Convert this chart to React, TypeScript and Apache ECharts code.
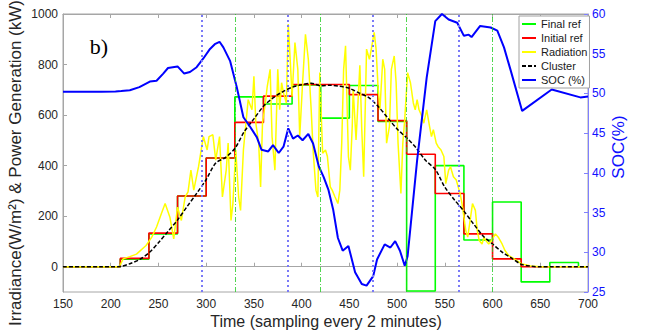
import React, { useEffect, useRef } from "react";
import * as echarts from "echarts";

const xMin = 150;
const xMax = 700;
const leftTicks = [0, 200, 400, 600, 800, 1000];

const finalRef: [number, number][] = [[150, 0], [210, 30], [240, 130], [270, 280], [300, 430], [330, 672], [360, 644], [390, 719], [420, 588], [450, 717], [480, 575], [510, -96], [540, 400], [570, 106], [600, 256], [630, -60], [660, 17], [690, 0], [700, 0]];
const initialRef: [number, number][] = [[150, 0], [210, 33], [240, 133], [270, 280], [300, 430], [330, 571], [360, 675], [390, 721], [420, 721], [450, 681], [480, 578], [510, 445], [540, 290], [570, 130], [600, 31], [630, 0], [700, 0]];
const radiation: [number, number][] = [[150, 0], [170, 0], [190, 0], [209, 0], [213, 31], [220, 40], [227, 50], [237, 84], [243, 117], [248, 157], [253, 210], [257, 250], [262, 196], [266, 110], [270, 236], [274, 183], [278, 276], [281, 296], [284, 382], [287, 303], [292, 396], [297, 515], [301, 462], [303, 515], [307, 522], [310, 422], [314, 515], [317, 276], [321, 382], [323, 489], [326, 183], [328, 250], [331, 462], [334, 276], [336, 223], [339, 462], [342, 582], [344, 661], [348, 621], [350, 754], [352, 568], [355, 489], [357, 316], [359, 568], [362, 648], [364, 714], [367, 781], [369, 515], [372, 382], [375, 781], [377, 621], [379, 728], [381, 688], [384, 648], [386, 960], [388, 820], [390, 674], [393, 887], [396, 781], [398, 515], [401, 728], [404, 920], [407, 821], [410, 621], [412, 462], [415, 303], [417, 276], [419, 768], [422, 449], [425, 462], [427, 436], [430, 316], [432, 303], [435, 276], [438, 250], [440, 303], [442, 489], [444, 781], [446, 874], [447, 728], [449, 436], [451, 382], [453, 555], [454, 701], [457, 502], [459, 648], [461, 797], [463, 542], [465, 356], [467, 688], [468, 861], [471, 821], [473, 861], [476, 927], [478, 861], [480, 714], [482, 621], [485, 821], [487, 781], [489, 489], [492, 555], [494, 781], [497, 834], [499, 728], [501, 489], [504, 290], [506, 489], [508, 582], [511, 768], [514, 728], [517, 648], [519, 621], [521, 661], [523, 621], [526, 595], [528, 568], [531, 621], [534, 555], [536, 515], [538, 542], [541, 489], [543, 475], [546, 462], [549, 436], [551, 329], [554, 382], [556, 396], [557, 382], [559, 356], [562, 343], [564, 316], [566, 290], [568, 250], [570, 196], [572, 143], [574, 117], [577, 196], [579, 250], [582, 223], [584, 143], [586, 104], [589, 90], [591, 117], [593, 104], [596, 90], [599, 104], [603, 130], [606, 117], [610, 90], [613, 64], [617, 44], [621, 35], [625, 25], [630, 12], [640, 3], [650, 0], [700, 0]];
const cluster: [number, number][] = [[150, 0], [170, 0], [190, 0], [200, 0], [210, 1], [220, 12], [230, 28], [240, 55], [250, 95], [260, 140], [270, 185], [280, 238], [290, 290], [300, 345], [310, 410], [320, 432], [330, 468], [340, 535], [350, 585], [360, 635], [370, 668], [380, 692], [390, 710], [400, 720], [410, 726], [420, 716], [430, 718], [440, 714], [450, 706], [460, 688], [470, 670], [480, 635], [490, 590], [500, 545], [510, 510], [520, 470], [530, 420], [540, 385], [550, 315], [560, 265], [570, 220], [580, 170], [590, 122], [600, 90], [610, 58], [620, 34], [630, 10], [640, 2], [650, 0], [700, 0]];
const soc: [number, number][] = [[150, 50.2], [170, 50.2], [190, 50.2], [205, 50.25], [211, 50.3], [220, 50.4], [230, 50.8], [241, 51.5], [248, 51.6], [255, 52.5], [260, 53.2], [270, 53.4], [277, 52.5], [283, 52.7], [290, 53.3], [297, 54.4], [304, 55.6], [309, 56.2], [314, 56.5], [318, 55.8], [325, 54.1], [332, 50.8], [339, 47], [346, 45.8], [353, 44.5], [358, 42.9], [365, 42.7], [370, 43.5], [376, 42.5], [381, 43.3], [386, 45.6], [391, 44.3], [396, 44.7], [401, 44.1], [407, 44.9], [412, 43.7], [418, 40.8], [423, 39.5], [428, 37.9], [433, 35.4], [438, 31.8], [443, 30.2], [449, 30.8], [456, 27.5], [463, 26], [468, 25.8], [475, 27], [479, 29.1], [487, 31], [493, 30.6], [498, 31.4], [503, 30.2], [508, 28.3], [511, 29.5], [521, 41.6], [531, 52], [540, 59.1], [547, 60], [554, 59.3], [563, 58.9], [570, 57.25], [575, 57.4], [578, 57.1], [587, 58.5], [598, 58.3], [605, 57.9], [612, 55.8], [619, 52.9], [631, 47.8], [662, 50.5], [692, 49.5], [700, 49.6]];
const blueMarks = [295, 385, 475, 565];
const greenMarks = [330, 420, 510, 600];

const FONT = "'Liberation Sans', Arial, sans-serif";
const AXIS_GRAY = "#a6a6a6";
const TEXT_GRAY = "#262626";

export default function App() {
  const ref = useRef<HTMLDivElement>(null);
  useEffect(() => {
    if (!ref.current) return;
    const chart = echarts.init(ref.current, undefined, { renderer: "svg" });
    const option: any = {
      animation: false,
      backgroundColor: "#ffffff",
      textStyle: { fontFamily: FONT },
      grid: { left: 63, right: 58, top: 14, bottom: 39, show: true, borderColor: AXIS_GRAY, borderWidth: 1, backgroundColor: "transparent" },
      legend: {
        left: 519,
        top: 16,
        orient: "vertical",
        data: ["Final ref", "Initial ref", "Radiation", "Cluster", "SOC (%)"],
        itemWidth: 14,
        itemHeight: 8,
        itemGap: 0,
        padding: [1, 2, 1, 2],
        itemStyle: { opacity: 0 },
        backgroundColor: "#ffffff",
        borderColor: "#a0a0a0",
        borderWidth: 1,
        borderRadius: 0,
        textStyle: { fontSize: 11, fontFamily: FONT, color: "#1a1a1a", lineHeight: 14 },
      },
      xAxis: [
        {
          type: "value", min: xMin, max: xMax, interval: 50, position: "bottom",
          axisLine: { show: true, lineStyle: { color: AXIS_GRAY } },
          axisTick: { show: true, inside: true, length: 4, lineStyle: { color: AXIS_GRAY } },
          axisLabel: { color: TEXT_GRAY, fontSize: 12, margin: 6, fontFamily: FONT },
          splitLine: { show: false },
        },
        {
          type: "value", min: xMin, max: xMax, interval: 50, position: "top",
          axisLine: { show: true, lineStyle: { color: AXIS_GRAY } },
          axisTick: { show: true, inside: true, length: 4, lineStyle: { color: AXIS_GRAY } },
          axisLabel: { show: false },
          splitLine: { show: false },
        },
      ],
      yAxis: [
        {
          type: "value", min: -100, max: 1000, position: "left",
          axisLine: { show: true, lineStyle: { color: AXIS_GRAY } },
          axisTick: { show: true, inside: true, length: 4, customValues: leftTicks, lineStyle: { color: AXIS_GRAY } },
          axisLabel: { color: TEXT_GRAY, fontSize: 12, margin: 5, customValues: leftTicks, fontFamily: FONT, formatter: (v: number) => String(v) },
          splitLine: { show: false },
        },
        {
          type: "value", min: 25, max: 60, interval: 5, position: "right",
          axisLine: { show: true, lineStyle: { color: "#8080ff" } },
          axisTick: { show: true, inside: true, length: 4, lineStyle: { color: "#8080ff" } },
          axisLabel: { color: "#1010ff", fontSize: 12, margin: 4, fontFamily: FONT },
          splitLine: { show: false },
        },
      ],
      series: [
        {
          name: "blueMarks", type: "line", data: [], silent: true,
          markLine: {
            silent: true, symbol: ["none", "none"], label: { show: false },
            lineStyle: { color: "#7a7af7", width: 2, type: [2, 3] },
            data: blueMarks.map((x) => ({ xAxis: x })),
          },
        },
        {
          name: "greenMarks", type: "line", data: [], silent: true,
          markLine: {
            silent: true, symbol: ["none", "none"], label: { show: false },
            lineStyle: { color: "#22cc22", width: 0.8, type: [5, 2, 1, 2] },
            data: greenMarks.map((x) => ({ xAxis: x })),
          },
        },
        {
          name: "Final ref", type: "line", step: "end", data: finalRef, symbol: "none",
          lineStyle: { color: "#00ff00", width: 1.6 }, itemStyle: { color: "#00ff00" },
        },
        {
          name: "Initial ref", type: "line", step: "end", data: initialRef, symbol: "none",
          lineStyle: { color: "#ff0000", width: 1.6 }, itemStyle: { color: "#ff0000" },
        },
        {
          name: "Radiation", type: "line", data: radiation, symbol: "none",
          lineStyle: { color: "#ffff00", width: 1.5 }, itemStyle: { color: "#ffff00" },
        },
        {
          name: "Cluster", type: "line", data: cluster, symbol: "none", smooth: 0.3,
          lineStyle: { color: "#000000", width: 1.5, type: [4, 2] }, itemStyle: { color: "#000000" },
        },
        {
          name: "SOC (%)", type: "line", yAxisIndex: 1, data: soc, symbol: "none",
          lineStyle: { color: "#0000ff", width: 2 }, itemStyle: { color: "#0000ff" },
        },
      ],
      graphic: [
        {
          type: "text", x: 99, y: 46,
          style: { text: "b)", font: "22px 'Liberation Serif', 'Times New Roman', serif", fill: "#000", textAlign: "center", textVerticalAlign: "middle" },
        },
        {
          type: "text", x: 15, y: 163, rotation: Math.PI / 2,
          style: { text: "Irradiance(W/m²) & Power Generation (kW)", font: "17px " + FONT, fill: TEXT_GRAY, textAlign: "center", textVerticalAlign: "middle" },
        },
        {
          type: "text", x: 618, y: 147, rotation: Math.PI / 2,
          style: { text: "SOC(%)", font: "17px " + FONT, fill: "#1010ff", textAlign: "center", textVerticalAlign: "middle" },
        },
        {
          type: "text", x: 326, y: 321,
          style: { text: "Time (sampling every 2 minutes)", font: "16px " + FONT, fill: TEXT_GRAY, textAlign: "center", textVerticalAlign: "middle" },
        },
      ],
    };
    chart.setOption(option);
    return () => chart.dispose();
  }, []);
  return <div ref={ref} style={{ position: "fixed", left: 0, top: 0, width: 646, height: 331 }} />;
}
